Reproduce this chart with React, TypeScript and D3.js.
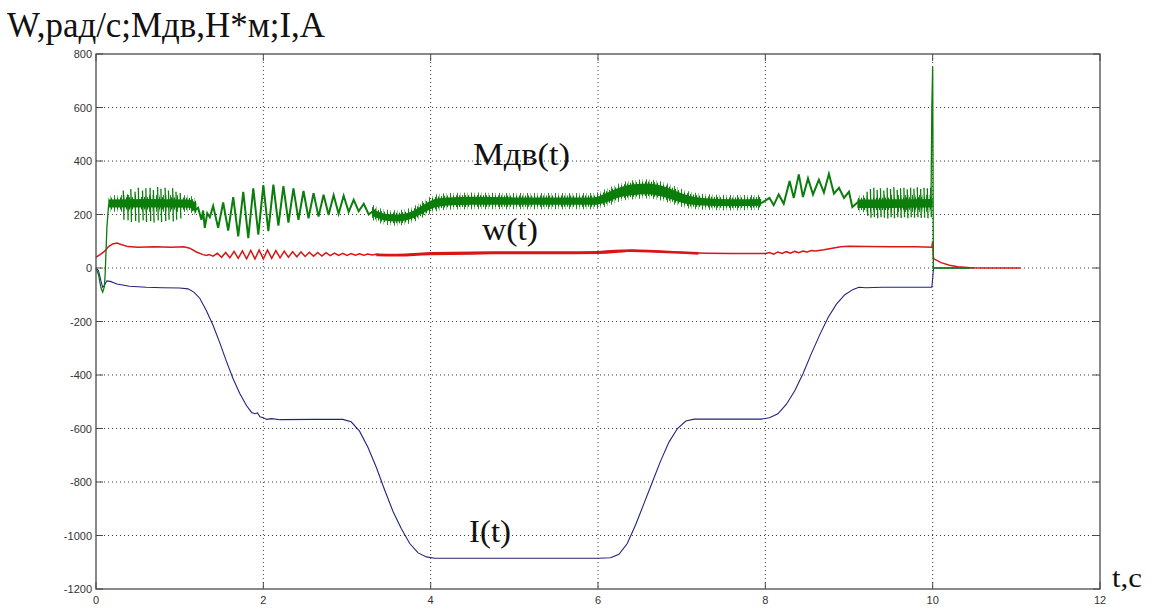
import React from "react";
import * as d3 from "d3";

const WIDTH = 1158;
const HEIGHT = 608;

// Axis ticks
const xTicks = [0, 2, 4, 6, 8, 10, 12];
const yTicks = [800, 600, 400, 200, 0, -200, -400, -600, -800, -1000, -1200];
const xGrid = [2, 4, 6, 8, 10];
const yGrid = [600, 400, 200, 0, -200, -400, -600, -800, -1000];

// Texts
const titleText = "W,рад/с;Мдв,Н*м;I,А";
const xAxisText = "t,c";
const labelM = "Мдв(t)";
const labelW = "w(t)";
const labelI = "I(t)";

// Motor torque Мдв(t): start-up transient
const mStart: [number, number][] = [
  [0, 0], [0.03, -25], [0.06, -75], [0.08, -90], [0.1, -70], [0.11, -20],
  [0.13, 150], [0.15, 235], [0.18, 250], [0.22, 236], [0.27, 248], [0.31, 238],
];

// Мдв(t): noisy band envelopes [t, low, high]
const mBand1: [number, number, number][] = [
  [0.15, 226, 256], [0.6, 226, 258], [1.1, 225, 256], [1.2, 210, 243],
];
const mBand2: [number, number, number][] = [
  [3.3, 195, 222], [3.45, 178, 203], [3.6, 174, 200], [3.75, 182, 208],
  [3.9, 204, 234], [4.05, 226, 258], [4.2, 234, 264], [4.5, 236, 266],
  [5.0, 236, 264], [5.5, 236, 264], [5.95, 236, 264], [6.1, 246, 280],
  [6.25, 264, 300], [6.4, 272, 312], [6.6, 276, 316], [6.75, 268, 308],
  [6.9, 254, 292], [7.05, 240, 274], [7.25, 234, 262], [7.6, 231, 257],
  [7.95, 233, 258],
];
const mBand3: [number, number, number][] = [
  [9.1, 224, 256], [9.5, 224, 257], [10.0, 226, 258],
];

// Мдв(t): spikes [t, top, bottom]
const mSpikes: [number, number, number][] = [
  [0.33, 290, 180], [0.38, 275, 178], [0.42, 295, 172], [0.47, 285, 176],
  [0.51, 300, 170], [0.56, 290, 178], [0.6, 298, 172], [0.65, 300, 175],
  [0.69, 292, 170], [0.74, 303, 178], [0.78, 296, 172], [0.83, 300, 176],
  [0.87, 290, 180], [0.92, 298, 174], [0.96, 285, 180], [1.01, 280, 185],
  [9.22, 285, 195], [9.26, 295, 188], [9.3, 300, 190], [9.34, 292, 186],
  [9.38, 298, 190], [9.42, 290, 188], [9.46, 300, 185], [9.5, 295, 190],
  [9.54, 302, 186], [9.58, 292, 190], [9.62, 298, 187], [9.66, 300, 190],
  [9.7, 294, 186], [9.74, 300, 190], [9.78, 296, 188], [9.82, 302, 190],
  [9.86, 295, 187], [9.9, 300, 189], [9.94, 298, 186], [9.98, 300, 190],
];

// Мдв(t): oscillation after the first speed step
const mOsc1: [number, number][] = [
  [1.05, 240], [1.12, 235], [1.18, 215], [1.22, 225], [1.26, 180], [1.28, 215],
  [1.3, 150], [1.33, 205], [1.36, 190], [1.4, 232], [1.46, 150], [1.52, 245],
  [1.58, 140], [1.64, 265], [1.7, 118], [1.76, 285], [1.82, 112], [1.88, 298],
  [1.94, 125], [2.0, 310], [2.06, 138], [2.12, 312], [2.18, 158], [2.24, 306],
  [2.3, 170], [2.36, 298], [2.42, 180], [2.48, 288], [2.54, 186], [2.6, 280],
  [2.66, 192], [2.72, 274], [2.78, 198], [2.84, 272], [2.9, 203], [2.96, 270],
  [3.02, 210], [3.08, 255], [3.14, 212], [3.2, 240], [3.26, 200], [3.32, 215],
  [3.38, 190],
];

// Мдв(t): oscillation around the last speed step
const mOsc2: [number, number][] = [
  [7.95, 242], [8.05, 262], [8.1, 235], [8.16, 275], [8.22, 240], [8.29, 325],
  [8.34, 262], [8.4, 350], [8.45, 265], [8.51, 335], [8.57, 275], [8.64, 330],
  [8.7, 282], [8.76, 352], [8.82, 278], [8.88, 300], [8.94, 262], [9.0, 285],
  [9.04, 228], [9.1, 245], [9.2, 240],
];

// Мдв(t): switch-off surge
const mEnd: [number, number][] = [
  [9.98, 240], [9.99, 600], [10.0, 752], [10.004, 400], [10.008, 0], [10.45, 0],
];

// Angular speed w(t)
const wTrace: [number, number][] = [
  [0, 41], [0.05, 50], [0.1, 62], [0.15, 80], [0.2, 90], [0.25, 93], [0.3, 88],
  [0.38, 80], [0.5, 78], [0.7, 79], [0.9, 78], [1.05, 79], [1.12, 74], [1.2, 60],
  [1.28, 50], [1.32, 47],
  [1.35, 50], [1.4, 44], [1.45, 55], [1.5, 40], [1.55, 58], [1.6, 38], [1.65, 62],
  [1.7, 36], [1.75, 64], [1.8, 34], [1.85, 66], [1.9, 34], [1.95, 67], [2.0, 34],
  [2.05, 67], [2.1, 36], [2.15, 65], [2.2, 38], [2.25, 63], [2.3, 40], [2.35, 61],
  [2.4, 42], [2.45, 60], [2.5, 43], [2.55, 59], [2.6, 44], [2.65, 58], [2.7, 45],
  [2.75, 57], [2.8, 46], [2.85, 56], [2.9, 47], [2.95, 55], [3.0, 47], [3.05, 54],
  [3.1, 48], [3.15, 53], [3.2, 48], [3.25, 52], [3.3, 49], [3.35, 51],
  [3.4, 50], [3.6, 48], [4.0, 54], [5.0, 57], [6.0, 58], [6.4, 65], [6.7, 62],
  [7.0, 58], [7.3, 55], [7.6, 54], [8.0, 54],
  [8.05, 58], [8.1, 52], [8.15, 60], [8.2, 54], [8.25, 61], [8.3, 55], [8.35, 62],
  [8.4, 57], [8.45, 63], [8.5, 60], [8.55, 65], [8.6, 64], [8.7, 68], [8.8, 74],
  [8.9, 79], [9.0, 81], [9.2, 80], [9.5, 79], [9.8, 79], [9.99, 78],
  [10.0, 100], [10.01, 35], [10.1, 20], [10.2, 10], [10.3, 5], [10.45, 1],
  [10.6, 0], [11.05, 0],
];

// w(t): thick ripple band [t, low, high]
const wBand: [number, number, number][] = [
  [3.35, 44, 54], [3.6, 43, 53], [4.0, 48, 60], [4.5, 50, 62], [5.0, 51, 63],
  [5.5, 51, 63], [6.0, 52, 64], [6.2, 56, 68], [6.4, 60, 70], [6.6, 58, 68],
  [6.9, 54, 64], [7.2, 50, 60],
];

// Current I(t)
const iTrace: [number, number][] = [
  [0, 0], [0.03, -10], [0.06, -50], [0.08, -72], [0.1, -65], [0.13, -48],
  [0.17, -50], [0.25, -60], [0.4, -68], [0.6, -72], [0.8, -74], [1.0, -75],
  [1.1, -78], [1.17, -90], [1.24, -113], [1.32, -160], [1.4, -215], [1.48, -280],
  [1.56, -350], [1.64, -415], [1.72, -470], [1.8, -515], [1.86, -540], [1.9, -545],
  [1.93, -542], [1.96, -556], [2.0, -560], [2.04, -566], [2.1, -563], [2.2, -567],
  [2.6, -566], [2.95, -566], [3.05, -575], [3.15, -610], [3.25, -670], [3.35, -745],
  [3.45, -830], [3.55, -910], [3.65, -975], [3.75, -1030], [3.85, -1065],
  [3.95, -1080], [4.05, -1085], [6.0, -1085], [6.15, -1083], [6.25, -1070],
  [6.35, -1030], [6.45, -960], [6.55, -880], [6.65, -800], [6.75, -720],
  [6.85, -650], [6.95, -600], [7.05, -572], [7.15, -565], [7.95, -565],
  [8.05, -560], [8.15, -545], [8.25, -510], [8.35, -460], [8.45, -395],
  [8.55, -320], [8.65, -250], [8.75, -185], [8.85, -135], [8.95, -100],
  [9.05, -80], [9.12, -72], [9.2, -74], [9.4, -72], [9.99, -72], [10.0, -40],
  [10.01, 0], [10.5, 0],
];

const GREEN = "#0b7d0b";
const RED = "#d91616";
const BLUE = "#23237e";

export default function App() {
  const x = d3.scaleLinear().domain([0, 12]).range([96, 1100]);
  const y = d3.scaleLinear().domain([-1200, 800]).range([589, 54]);
  const line = d3.line<number[]>().x((d) => x(d[0])).y((d) => y(d[1]));
  const area = d3
    .area<number[]>()
    .x((d) => x(d[0]))
    .y0((d) => y(d[1]))
    .y1((d) => y(d[2]))
    .curve(d3.curveMonotoneX);
  // band widened by a margin in data units, used for the hatched ragged edge
  const widened = (band: [number, number, number][], m: number) =>
    area(band.map((b) => [b[0], b[1] - m, b[2] + m])) || "";

  const [x0, x1] = x.range();
  const [yb, yt] = y.range();
  const tickFont = "'Liberation Sans', Arial, sans-serif";
  const serif = "'Liberation Serif', 'Times New Roman', serif";
  const mBands = [mBand1, mBand2, mBand3];

  return (
    <svg
      width={WIDTH}
      height={HEIGHT}
      style={{ position: "absolute", left: 0, top: 0, background: "#fff" }}
    >
      <defs>
        <pattern id="hatchFine" width={3} height={20} patternUnits="userSpaceOnUse">
          <rect x={0} y={0} width={1.1} height={20} fill={GREEN} />
        </pattern>
        <pattern id="hatchWide" width={7} height={20} patternUnits="userSpaceOnUse">
          <rect x={2} y={0} width={0.9} height={20} fill={GREEN} />
          <rect x={5} y={0} width={0.7} height={20} fill={GREEN} opacity={0.6} />
        </pattern>
      </defs>
      <rect x={0} y={0} width={WIDTH} height={HEIGHT} fill="#fff" />

      {/* grid */}
      <g stroke="#3a3a3a" strokeWidth={1} strokeDasharray="1,3">
        {xGrid.map((t) => (
          <line key={"gx" + t} x1={x(t)} x2={x(t)} y1={yt} y2={yb} />
        ))}
        {yGrid.map((v) => (
          <line key={"gy" + v} x1={x0} x2={x1} y1={y(v)} y2={y(v)} />
        ))}
      </g>

      {/* current */}
      <path d={line(iTrace) || ""} fill="none" stroke={BLUE} strokeWidth={1.1} />

      {/* speed */}
      <path d={area(wBand) || ""} fill={RED} />
      <path d={line(wTrace) || ""} fill="none" stroke={RED} strokeWidth={1.5} />

      {/* torque: noisy bands */}
      {mBands.map((b, i) => (
        <g key={"mb" + i}>
          <path d={widened(b, 16)} fill="url(#hatchWide)" />
          <path d={widened(b, 7)} fill="url(#hatchFine)" />
          <path d={area(b) || ""} fill={GREEN} />
        </g>
      ))}
      <g fill="none" stroke={GREEN} strokeWidth={1.3}>
        <path d={line(mStart) || ""} />
        <path d={line(mOsc1) || ""} strokeWidth={2} />
        <path d={line(mOsc2) || ""} strokeWidth={2} />
        <path d={line(mEnd) || ""} />
        {mSpikes.map((s, i) => (
          <path
            key={"sp" + i}
            d={line([[s[0] - 0.004, s[1]], [s[0] + 0.004, s[2]]]) || ""}
          />
        ))}
      </g>

      {/* axes box and ticks */}
      <rect
        x={x0}
        y={yt}
        width={x1 - x0}
        height={yb - yt}
        fill="none"
        stroke="#4a4a4a"
        strokeWidth={1.3}
      />
      <g stroke="#4a4a4a" strokeWidth={1}>
        {xTicks.map((t) => (
          <g key={"tx" + t}>
            <line x1={x(t)} x2={x(t)} y1={yb} y2={yb - 7} />
            <line x1={x(t)} x2={x(t)} y1={yt} y2={yt + 7} />
          </g>
        ))}
        {yTicks.map((v) => (
          <g key={"ty" + v}>
            <line x1={x0} x2={x0 + 7} y1={y(v)} y2={y(v)} />
            <line x1={x1} x2={x1 - 7} y1={y(v)} y2={y(v)} />
          </g>
        ))}
      </g>
      <g fontFamily={tickFont} fontSize={11} fill="#333">
        {xTicks.map((t) => (
          <text key={"lx" + t} x={x(t)} y={604} textAnchor="middle">
            {t}
          </text>
        ))}
        {yTicks.map((v) => (
          <text key={"ly" + v} x={x0 - 4} y={y(v) + 4} textAnchor="end">
            {v}
          </text>
        ))}
      </g>

      {/* titles and curve labels */}
      <g fontFamily={serif} fill="#111">
        <text x={7} y={37} fontSize={35} textLength={318} lengthAdjust="spacingAndGlyphs">
          {titleText}
        </text>
        <text x={1112} y={587} fontSize={28} textLength={30} lengthAdjust="spacingAndGlyphs">
          {xAxisText}
        </text>
        <text x={473} y={165} fontSize={31} textLength={97} lengthAdjust="spacingAndGlyphs">
          {labelM}
        </text>
        <text x={482} y={240} fontSize={31} textLength={56} lengthAdjust="spacingAndGlyphs">
          {labelW}
        </text>
        <text x={469} y={542} fontSize={32} textLength={42} lengthAdjust="spacingAndGlyphs">
          {labelI}
        </text>
      </g>
    </svg>
  );
}
